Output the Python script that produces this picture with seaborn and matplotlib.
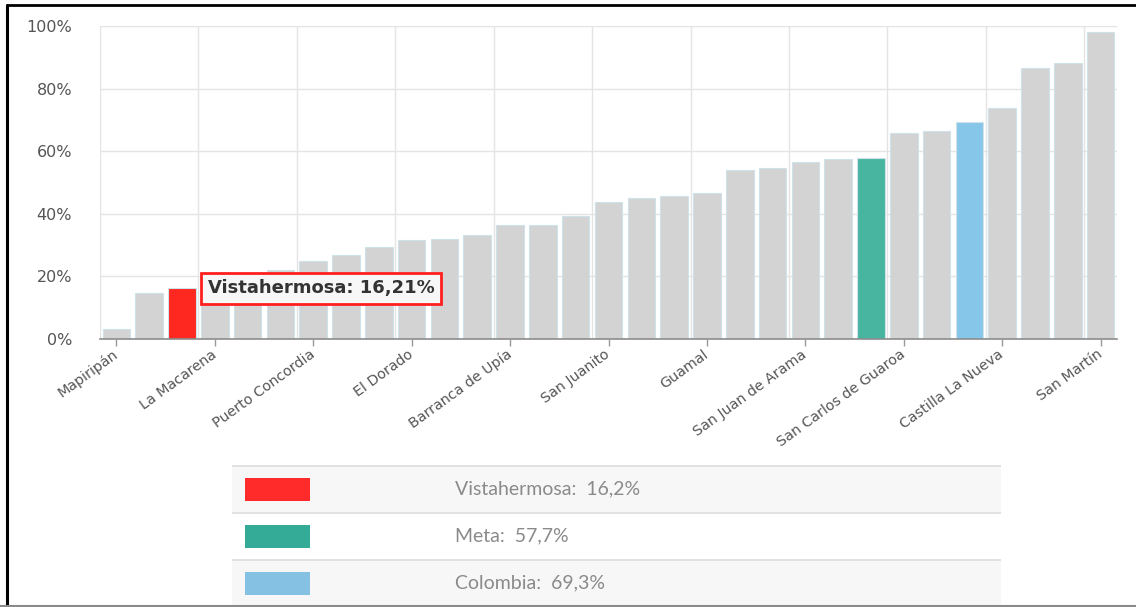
import matplotlib
matplotlib.use("Agg")
import numpy as np
import pandas as pd
import seaborn as sns
import matplotlib.pyplot as plt
from matplotlib.lines import Line2D
from matplotlib.patches import Rectangle

# ---------------- data ----------------
categories = [
    "Mapiripán", "Uribe", "Vistahermosa", "La Macarena", "Puerto Gaitán", "Puerto Rico",
    "Puerto Concordia", "Mesetas", "Puerto Lleras", "El Dorado", "Lejanías", "El Castillo",
    "Barranca de Upía", "Cabuyaro", "Puerto López", "San Juanito", "El Calvario", "Fuente de Oro",
    "Guamal", "Granada", "Cubarral", "San Juan de Arama", "Cumaral", "Meta",
    "San Carlos de Guaroa", "Restrepo", "Colombia", "Castilla La Nueva", "Acacías",
    "Villavicencio", "San Martín",
]
values = [
    3.2, 14.7, 16.21, 17.6, 19.0, 22.1,
    25.0, 26.9, 29.5, 31.6, 32.0, 33.1,
    36.4, 36.4, 39.4, 43.9, 44.9, 45.8,
    46.7, 54.1, 54.5, 56.7, 57.4, 57.7,
    65.9, 66.6, 69.3, 73.7, 86.6,
    88.1, 98.0,
]
highlight_names = ["Vistahermosa", "Meta", "Colombia"]
highlight_bar_colors = ["#fe2820", "#48b5a1", "#86c6e8"]
legend_swatch_colors = ["#ff2a2a", "#33ab96", "#85c1e3"]
legend_values = [16.2, 57.7, 69.3]
tooltip_name = "Vistahermosa"
tooltip_value = 16.21
ytick_values = [0, 20, 40, 60, 80, 100]
label_every = 3

# ---------------- figure ----------------
sns.set_style("white")
plt.rcParams["font.family"] = ["DejaVu Sans"]

W, H = 1136, 607
fig = plt.figure(figsize=(W / 100, H / 100), dpi=100)
fig.patch.set_facecolor("white")

ax = fig.add_axes([100 / W, 1 - 339 / H, 1017 / W, 313 / H])

df = pd.DataFrame({"cat": categories, "val": values})
color_map = dict(zip(highlight_names, highlight_bar_colors))
palette = {c: color_map.get(c, "#d3d3d3") for c in categories}

sns.barplot(
    data=df, x="cat", y="val", hue="cat", order=categories, hue_order=categories,
    palette=palette, legend=False, width=0.84, saturation=1,
    edgecolor="#cfe2ea", linewidth=0.8, ax=ax, zorder=3,
)

ax.set_xlim(-0.5, len(categories) - 0.5)
ax.set_ylim(0, 100)
ax.set_xlabel("")
ax.set_ylabel("")

# y axis
ax.set_yticks(ytick_values)
ax.set_yticklabels([f"{v}%" for v in ytick_values])
ax.tick_params(axis="y", left=False, length=0, pad=20, labelsize=11.5, labelcolor="#555555")

# x axis
major_idx = list(range(0, len(categories), label_every))
ax.set_xticks(major_idx)
ax.set_xticklabels([categories[i] for i in major_idx], rotation=36, ha="right",
                   rotation_mode="anchor", va="center")
ax.set_xticks(np.arange(-0.5, len(categories), label_every), minor=True)
ax.tick_params(axis="x", which="major", bottom=True, length=5, width=1, color="#999999",
               direction="out", pad=5, labelsize=10.3, labelcolor="#555555")
ax.tick_params(axis="x", which="minor", bottom=False, length=0)

ax.grid(False)
ax.grid(which="minor", axis="x", color="#e4e4e4", linewidth=1)
ax.grid(which="major", axis="y", color="#e4e4e4", linewidth=1)
ax.set_axisbelow(True)

for s in ["top", "right", "left"]:
    ax.spines[s].set_visible(False)
ax.spines["bottom"].set_color("#8c8c8c")
ax.spines["bottom"].set_linewidth(1.2)
ax.spines["bottom"].set_zorder(5)

# tooltip
tip_idx = categories.index(tooltip_name)
tip_text = f"{tooltip_name}: {tooltip_value:.2f}%".replace(".", ",")
ax.annotate(
    tip_text, xy=(tip_idx, tooltip_value), xytext=(18.5, 0), textcoords="offset points",
    ha="left", va="center", fontsize=13, fontweight="bold", color="#333333",
    bbox=dict(boxstyle="square,pad=0.36", fc="#f7f7f7", ec="#ff1f1f", lw=2),
    zorder=10, annotation_clip=False,
)

# ---------------- legend table ----------------
lx0, lx1, ly_top = 232, 1001, 465
row_h = 47
lax = fig.add_axes([lx0 / W, 0, (lx1 - lx0) / W, (H - ly_top) / H])
lax.set_xlim(0, lx1 - lx0)
lax.set_ylim(0, H - ly_top)
lax.axis("off")
top = H - ly_top
row_bg = ["#f7f7f7", "#ffffff", "#f7f7f7"]
for i, (name, col, val) in enumerate(zip(highlight_names, legend_swatch_colors, legend_values)):
    y_hi = top - i * row_h
    y_lo = y_hi - row_h
    lax.add_patch(Rectangle((0, y_lo), lx1 - lx0, row_h, facecolor=row_bg[i], edgecolor="none",
                            zorder=0))
    lax.plot([0, lx1 - lx0], [y_hi - 0.5, y_hi - 0.5], color="#dddddd", lw=1.2, zorder=1)
    yc = y_hi - 24
    lax.add_patch(Rectangle((13, yc - 11.5), 65, 23, facecolor=col, edgecolor="none", zorder=2))
    lax.text(223, yc, f"{name}:  {val:.1f}%".replace(".", ","), ha="left", va="center",
             fontsize=14, color="#8a8a8a", family=["Lato", "DejaVu Sans"],
             fontweight="normal", zorder=5)

# ---------------- frame lines ----------------
fig.add_artist(Line2D([7 / W, 1], [1 - 5 / H, 1 - 5 / H], transform=fig.transFigure,
                      color="black", lw=2))
fig.add_artist(Line2D([6.5 / W, 6.5 / W], [0, 1 - 5 / H], transform=fig.transFigure,
                      color="black", lw=2.2))
fig.add_artist(Line2D([0, 1], [1.5 / H, 1.5 / H], transform=fig.transFigure,
                      color="#8a8a8a", lw=1.5))

fig.savefig("out.png", dpi=100, facecolor="white")
